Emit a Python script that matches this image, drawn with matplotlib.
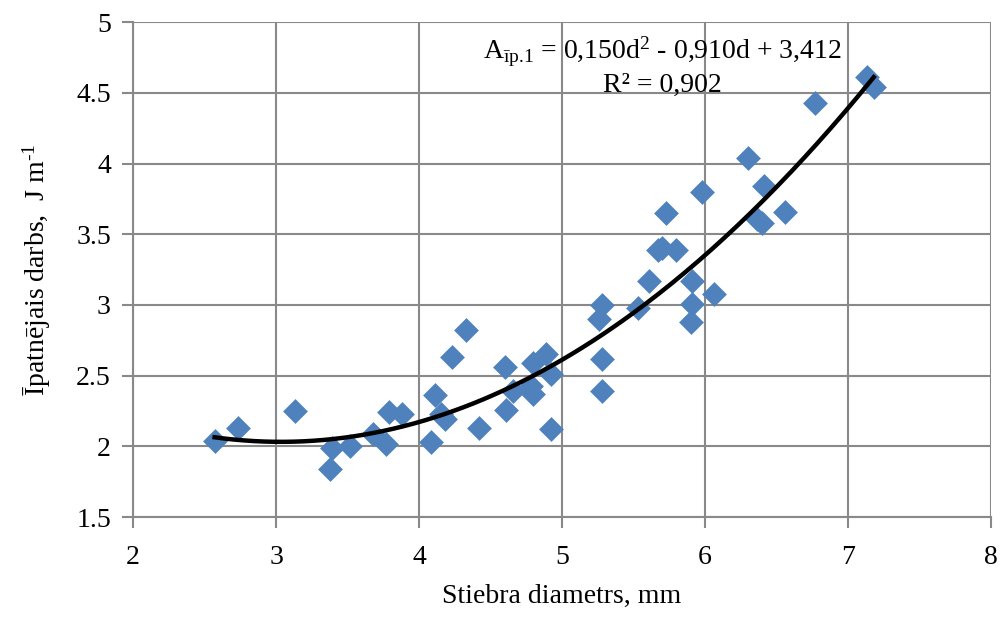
import numpy as np
import matplotlib
matplotlib.use("Agg")
import matplotlib.pyplot as plt

plt.rcParams['font.family'] = ['Liberation Serif', 'DejaVu Serif']
plt.rcParams['mathtext.fontset'] = 'custom'
plt.rcParams['mathtext.rm'] = 'Liberation Serif'
plt.rcParams['mathtext.it'] = 'Liberation Serif:italic'

# measured points: stem diameter (mm) and specific work (J/m)
diam = [2.57, 2.73, 3.13, 3.38, 3.39, 3.52, 3.68, 3.77, 3.79, 3.88,
        4.08, 4.11, 4.15, 4.18, 4.23, 4.33, 4.42, 4.60, 4.61, 4.66,
        4.78, 4.80, 4.80, 4.89, 4.92, 4.92, 5.26, 5.28, 5.28, 5.28,
        5.53, 5.61, 5.67, 5.70, 5.73, 5.80, 5.90, 5.91, 5.91, 5.98,
        6.06, 6.30, 6.36, 6.40, 6.41, 6.56, 6.77, 7.13, 7.18]
work = [2.04, 2.13, 2.25, 1.84, 1.99, 2.00, 2.09, 2.02, 2.24, 2.23,
        2.03, 2.36, 2.23, 2.19, 2.63, 2.82, 2.13, 2.56, 2.26, 2.39,
        2.43, 2.59, 2.37, 2.65, 2.51, 2.12, 2.90, 3.00, 2.62, 2.39,
        2.98, 3.17, 3.39, 3.40, 3.65, 3.39, 2.88, 3.01, 3.17, 3.80,
        3.08, 4.04, 3.61, 3.58, 3.84, 3.66, 4.43, 4.61, 4.54]

# trendline coefficients from the equation on the chart
coef = [0.150, -0.910, 3.412]

fig = plt.figure(figsize=(10.01, 6.34), dpi=100)
ax = fig.add_axes([0.133, 0.1845, 0.857, 0.7805])

ax.scatter(diam, work, marker='D', s=160, color='#4F81BD', zorder=3, linewidths=0)
xs = np.linspace(min(diam), max(diam), 200)
ax.plot(xs, np.polyval(coef, xs), color='black', lw=3.2, zorder=4)

ax.set_xlim(2, 8)
ax.set_ylim(1.5, 5)
ax.set_xticks([2, 3, 4, 5, 6, 7, 8])
ax.set_yticks([1.5, 2, 2.5, 3, 3.5, 4, 4.5, 5])
ax.set_yticklabels(['1.5', '2', '2.5', '3', '3.5', '4', '4.5', '5'])
ax.grid(True, color='#898989', lw=1.5)
ax.set_axisbelow(True)
for s in ['top', 'right']:
    ax.spines[s].set_visible(False)
for s in ['left', 'bottom']:
    ax.spines[s].set_color('#898989')
    ax.spines[s].set_linewidth(1.5)
ax.tick_params(axis='x', direction='out', length=8, width=1.5, color='#898989',
               labelsize=20, pad=12)
ax.tick_params(axis='y', direction='out', length=8, width=1.5, color='#898989',
               labelsize=20, pad=8)

ax.set_xlabel('Stiebra diametrs, mm', fontsize=20, labelpad=10)
ax.set_ylabel(r'Īpatnējais darbs,  J m$^{\text{-1}}$', fontsize=20, labelpad=17)

ax.text(0.617, 0.94, r'A$_{\text{īp.1}}$ = 0,150d$^{2}$ - 0,910d + 3,412',
        transform=ax.transAxes, ha='center', va='center', fontsize=20)
ax.text(0.617, 0.873, 'R² = 0,902', transform=ax.transAxes,
        ha='center', va='center', fontsize=20)

fig.savefig('out.png', dpi=100)
